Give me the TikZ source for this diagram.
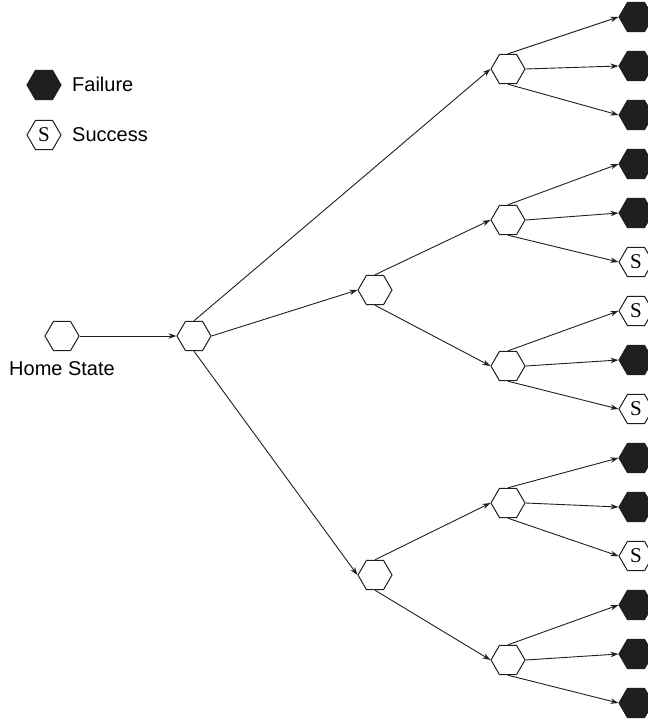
\documentclass[tikz,border=0pt]{standalone}
\usepackage{fontspec}
\setmainfont{Liberation Sans}
\newfontfamily\hexfont{Liberation Serif}
\usetikzlibrary{shapes.geometric,arrows.meta}

\begin{document}
\begin{tikzpicture}[x=1bp, y=-1bp, font=\fontsize{20bp}{24bp}\selectfont]

\tikzstyle{state}=[regular polygon, regular polygon sides=6, minimum size=34bp, inner sep=0pt, draw=black!88, line width=1bp, fill=white]
\tikzstyle{fail}=[state, fill=black!88]
\tikzstyle{succ}=[state, font=\hexfont\fontsize{21bp}{24bp}\selectfont]
\tikzstyle{arrow}=[-{Stealth[length=8bp,width=5.5bp]}, line width=0.9bp, black!88]
\tikzstyle{txt}=[anchor=base, inner sep=0pt]

\useasboundingbox (0,0) rectangle (648,721);
\clip (0,0) rectangle (648,721);

% legend
\node (KF) [fail] at (44,85) {};
\node (KFt) [txt, anchor=base west] at (72,92) {Failure};
\node (KS) [succ] at (44,135) {S};
\node (KSt) [txt, anchor=base west] at (72,142) {Success};

% tree
\node (H) [state] at (62,336) {};
\node (Ht) [txt] at (62,375) {Home State};
\node (A) [state] at (194,336) {};

\node (B1) [state] at (508,69) {};
\node (B2) [state] at (375,290) {};
\node (B3) [state] at (375,575) {};

\node (C1) [state] at (508,220) {};
\node (C2) [state] at (508,366) {};
\node (C3) [state] at (508,503) {};
\node (C4) [state] at (508,660) {};

% leaves
\node (L1) [fail] at (636,17) {};
\node (L2) [fail] at (636,66) {};
\node (L3) [fail] at (636,115) {};
\node (L4) [fail] at (636,164) {};
\node (L5) [fail] at (636,213) {};
\node (L6) [succ] at (636,262) {S};
\node (L7) [succ] at (636,311) {S};
\node (L8) [fail] at (636,360) {};
\node (L9) [succ] at (636,409) {S};
\node (L10) [fail] at (636,458) {};
\node (L11) [fail] at (636,507) {};
\node (L12) [succ] at (636,556) {S};
\node (L13) [fail] at (636,605) {};
\node (L14) [fail] at (636,654) {};
\node (L15) [fail] at (636,703) {};

\draw [arrow] (H) -- (A);
\draw [arrow] (A.north) -- (B1.west);
\draw [arrow] (A.east) -- (B2.west);
\draw [arrow] (A.south) -- (B3.west);

\draw [arrow] (B2.north) -- (C1.west);
\draw [arrow] (B2.south) -- (C2.west);
\draw [arrow] (B3.north) -- (C3.west);
\draw [arrow] (B3.south) -- (C4.west);

\draw [arrow] (B1.north) -- (L1.west);
\draw [arrow] (B1.east) -- (L2.west);
\draw [arrow] (B1.south) -- (L3.west);
\draw [arrow] (C1.north) -- (L4.west);
\draw [arrow] (C1.east) -- (L5.west);
\draw [arrow] (C1.south) -- (L6.west);
\draw [arrow] (C2.north) -- (L7.west);
\draw [arrow] (C2.east) -- (L8.west);
\draw [arrow] (C2.south) -- (L9.west);
\draw [arrow] (C3.north) -- (L10.west);
\draw [arrow] (C3.east) -- (L11.west);
\draw [arrow] (C3.south) -- (L12.west);
\draw [arrow] (C4.north) -- (L13.west);
\draw [arrow] (C4.east) -- (L14.west);
\draw [arrow] (C4.south) -- (L15.west);

\end{tikzpicture}
\end{document}
